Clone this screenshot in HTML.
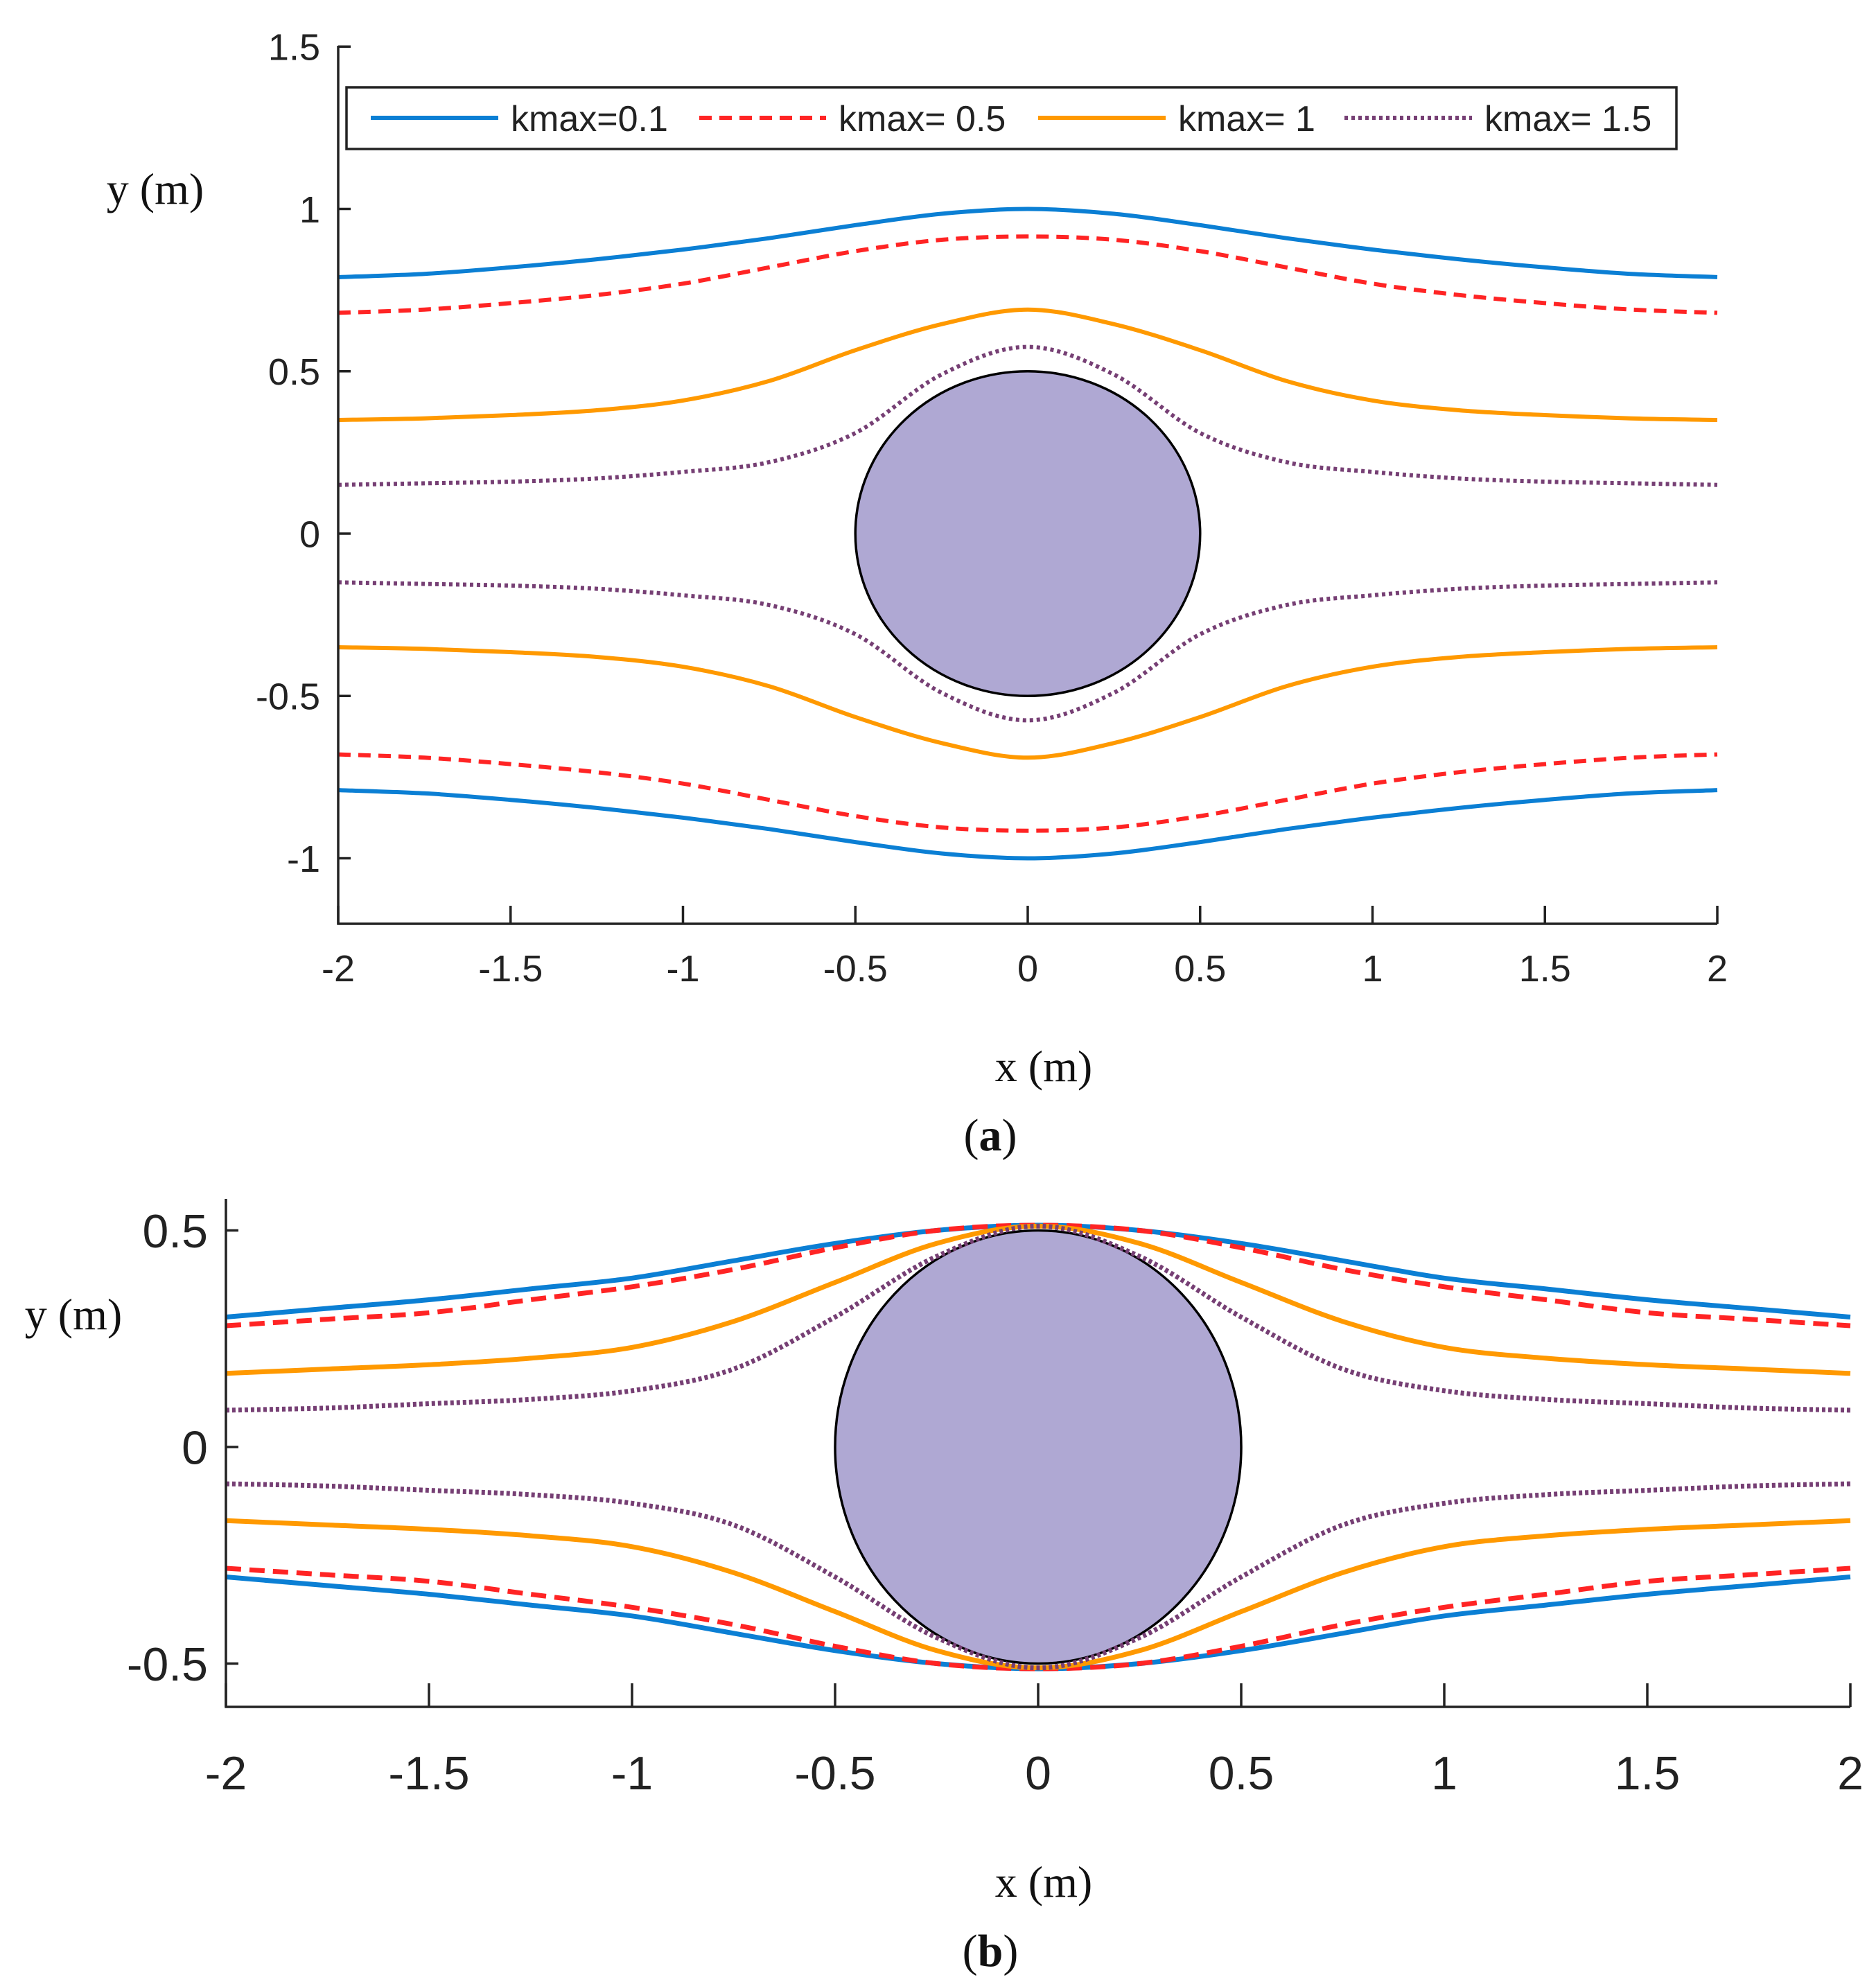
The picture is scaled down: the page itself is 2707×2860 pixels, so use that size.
<!DOCTYPE html>
<html><head><meta charset="utf-8">
<style>
html,body{margin:0;padding:0;background:#fff;}
svg{display:block;}
.tick{font-family:"Liberation Sans",Arial,sans-serif;fill:#222;}
.lab{font-family:"Liberation Serif","Times New Roman",serif;fill:#111;}
</style></head>
<body>
<svg id="fig" width="2707" height="2860" viewBox="0 0 2707 2860" xmlns="http://www.w3.org/2000/svg"></svg>
<script>
// ---- data (upper half; lower half is mirror) ----
const xs = [-2, -1.75, -1.5, -1.25, -1, -0.75, -0.5, -0.25, 0, 0.25, 0.5, 0.75, 1, 1.25, 1.5, 1.75, 2];
const seriesNames = ["kmax=0.1", "kmax= 0.5", "kmax= 1", "kmax= 1.5"];
const aBlue   = [0.79, 0.80, 0.82, 0.845, 0.875, 0.91, 0.95, 0.985, 1.0, 0.985, 0.95, 0.91, 0.875, 0.845, 0.82, 0.80, 0.79];
const aRed    = [0.68, 0.69, 0.71, 0.735, 0.77, 0.82, 0.87, 0.905, 0.915, 0.905, 0.87, 0.82, 0.77, 0.735, 0.71, 0.69, 0.68];
const aOrange = [0.35, 0.355, 0.365, 0.38, 0.41, 0.47, 0.565, 0.645, 0.69, 0.645, 0.565, 0.47, 0.41, 0.38, 0.365, 0.355, 0.35];
const aPurple = [0.15, 0.155, 0.16, 0.17, 0.19, 0.22, 0.31, 0.49, 0.575, 0.49, 0.31, 0.22, 0.19, 0.17, 0.16, 0.155, 0.15];
const bBlue   = [0.30, 0.32, 0.34, 0.365, 0.39, 0.43, 0.47, 0.50, 0.512, 0.50, 0.47, 0.43, 0.39, 0.365, 0.34, 0.32, 0.30];
const bRed    = [0.28, 0.295, 0.31, 0.34, 0.37, 0.41, 0.46, 0.50, 0.512, 0.50, 0.46, 0.41, 0.37, 0.34, 0.31, 0.295, 0.28];
const bOrange = [0.17, 0.18, 0.19, 0.205, 0.23, 0.29, 0.38, 0.47, 0.51, 0.47, 0.38, 0.29, 0.23, 0.205, 0.19, 0.18, 0.17];
const bPurple = [0.085, 0.09, 0.10, 0.11, 0.13, 0.18, 0.30, 0.44, 0.51, 0.44, 0.30, 0.18, 0.13, 0.11, 0.10, 0.09, 0.085];
const xTicks = [-2, -1.5, -1, -0.5, 0, 0.5, 1, 1.5, 2];
const xTickLabels = ["-2", "-1.5", "-1", "-0.5", "0", "0.5", "1", "1.5", "2"];
const aYTicks = [-1, -0.5, 0, 0.5, 1, 1.5];
const aYTickLabels = ["-1", "-0.5", "0", "0.5", "1", "1.5"];
const bYTicks = [-0.5, 0, 0.5];
const bYTickLabels = ["-0.5", "0", "0.5"];

const NS = "http://www.w3.org/2000/svg";
const svg = document.getElementById("fig");
function mk(tag, attrs, parent) {
  const e = document.createElementNS(NS, tag);
  for (const k in attrs) e.setAttribute(k, attrs[k]);
  (parent || svg).appendChild(e);
  return e;
}
const styles = [
  {c: "#0b7fd4", d: null},
  {c: "#ff2424", d: "dash"},
  {c: "#ff9900", d: null},
  {c: "#763f74", d: "dot"}
];
function smoothPath(pts) {
  let d = "M" + pts[0][0].toFixed(1) + "," + pts[0][1].toFixed(1);
  for (let i = 0; i < pts.length - 1; i++) {
    const p0 = pts[Math.max(0, i - 1)], p1 = pts[i], p2 = pts[i + 1], p3 = pts[Math.min(pts.length - 1, i + 2)];
    const c1 = [p1[0] + (p2[0] - p0[0]) / 6, p1[1] + (p2[1] - p0[1]) / 6];
    const c2 = [p2[0] - (p3[0] - p1[0]) / 6, p2[1] - (p3[1] - p1[1]) / 6];
    d += "C" + c1[0].toFixed(1) + "," + c1[1].toFixed(1) + " " + c2[0].toFixed(1) + "," + c2[1].toFixed(1) + " " + p2[0].toFixed(1) + "," + p2[1].toFixed(1);
  }
  return d;
}
function panel(cfg) {
  const g = mk("g", {});
  
  
  const sx = v => cfg.L + (v - (-2)) / 4 * (cfg.R - cfg.L);
  const sy = v => cfg.y0 - v * cfg.unit;
  const circ = mk("ellipse", {cx: sx(0), cy: sy(0), rx: sx(0.5) - sx(0), ry: cfg.unit * 0.5, fill: "#afa8d3", stroke: "#000", "stroke-width": 3.5}, g);
  
  
  cfg.series.forEach((vals, si) => {
    [1, -1].forEach(sign => {
      const pts = xs.map((x, i) => [sx(x), sy(sign * vals[i])]);
      const st = styles[si];
      const p = mk("path", {d: smoothPath(pts), fill: "none", stroke: st.c, "stroke-width": cfg.lw}, g);
      if (st.d === "dash") p.setAttribute("stroke-dasharray", cfg.dash);
      if (st.d === "dot") p.setAttribute("stroke-dasharray", cfg.dot);
      
      
    });
  });
  const ax = mk("path", {d: `M${cfg.L},${cfg.T} V${cfg.B} H${cfg.R}`, fill: "none", stroke: "#222", "stroke-width": 3.5}, g);
  
  
  xTicks.forEach((t, i) => {
    const x = sx(t);
    const tk = mk("line", {x1: x, x2: x, y1: cfg.B, y2: cfg.B - cfg.tl, stroke: "#222", "stroke-width": 3.5}, g);
    
    
    const tx = mk("text", {x: x, y: cfg.xLabY, "text-anchor": "middle", "font-size": cfg.fs, class: "tick"}, g);
    tx.textContent = xTickLabels[i];
    
    
  });
  cfg.yTicks.forEach((t, i) => {
    const y = sy(t);
    const tk = mk("line", {x1: cfg.L, x2: cfg.L + 18, y1: y, y2: y, stroke: "#222", "stroke-width": 3.5}, g);
    
    
    const tx = mk("text", {x: cfg.yLabX, y: y + cfg.fs * 0.36, "text-anchor": "end", "font-size": cfg.fs, class: "tick"}, g);
    tx.textContent = cfg.yTickLabels[i];
    
    
  });
  return g;
}
panel({name: "panel-a", L: 488, R: 2478, T: 66, B: 1333, y0: 770, unit: 468.5, lw: 6, dash: "18,11", dot: "5,5",
  series: [aBlue, aRed, aOrange, aPurple], yTicks: aYTicks, yTickLabels: aYTickLabels,
  tl: 26, fs: 54, xLabY: 1416, yLabX: 462});
panel({name: "panel-b", L: 326, R: 2670, T: 1730, B: 2463, y0: 2088, unit: 625, lw: 7, dash: "22,12", dot: "5,4",
  series: [bBlue, bRed, bOrange, bPurple], yTicks: bYTicks, yTickLabels: bYTickLabels,
  tl: 34, fs: 68, xLabY: 2582, yLabX: 300});
</script>
<svg style="position:absolute;left:0;top:0" width="2707" height="2860">
  <g>
    <rect x="500" y="126" width="1919" height="89" fill="#fff" stroke="#222" stroke-width="3.5"/>
    <line x1="535" y1="170" x2="719" y2="170" stroke="#0b7fd4" stroke-width="6"/>
    <text x="737" y="189" font-size="52" class="tick">kmax=0.1</text>
    <line x1="1009" y1="170" x2="1192" y2="170" stroke="#ff2424" stroke-width="6" stroke-dasharray="18,11"/>
    <text x="1210" y="189" font-size="52" class="tick">kmax= 0.5</text>
    <line x1="1498" y1="170" x2="1682" y2="170" stroke="#ff9900" stroke-width="6"/>
    <text x="1700" y="189" font-size="52" class="tick">kmax= 1</text>
    <line x1="1940" y1="170" x2="2124" y2="170" stroke="#763f74" stroke-width="6" stroke-dasharray="5,5"/>
    <text x="2142" y="189" font-size="52" class="tick">kmax= 1.5</text>
  </g>
  <text x="224" y="294" font-size="64" text-anchor="middle" class="lab">y (m)</text>
  <text x="1506" y="1560" font-size="64" text-anchor="middle" class="lab">x (m)</text>
  <text x="1429" y="1660" font-size="66" text-anchor="middle" class="lab">(<tspan font-weight="bold">a</tspan>)</text>
  <text x="106" y="1918" font-size="64" text-anchor="middle" class="lab">y (m)</text>
  <text x="1506" y="2737" font-size="64" text-anchor="middle" class="lab">x (m)</text>
  <text x="1429" y="2837" font-size="66" text-anchor="middle" class="lab">(<tspan font-weight="bold">b</tspan>)</text>
</svg>
</body></html>
